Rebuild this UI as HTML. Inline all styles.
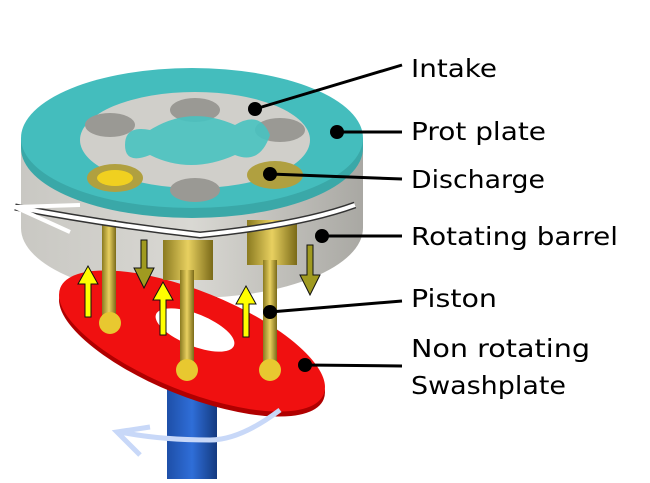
<!DOCTYPE html>
<html><head><style>
body{margin:0;width:650px;height:479px;background:#fff;overflow:hidden;font-family:"DejaVu Sans",sans-serif}
</style></head><body>
<svg width="650" height="479" viewBox="0 0 650 479">
<defs>
<linearGradient id="bar" x1="0" x2="1"><stop offset="0" stop-color="#c9c8c3"/><stop offset="0.5" stop-color="#d9d8d3"/><stop offset="1" stop-color="#a9a8a3"/></linearGradient>
<linearGradient id="sh" x1="0" x2="1"><stop offset="0" stop-color="#1e4fa8"/><stop offset="0.5" stop-color="#2f6ed8"/><stop offset="1" stop-color="#143a80"/></linearGradient>
<linearGradient id="pin" x1="0" x2="1"><stop offset="0" stop-color="#8a7a20"/><stop offset="0.5" stop-color="#e8d060"/><stop offset="1" stop-color="#7a6a18"/></linearGradient>
</defs>
<rect x="167" y="220" width="50" height="259" fill="url(#sh)"/>
<path d="M21 145 L21 228 A171 70 0 0 0 363 228 L363 145 Z" fill="url(#bar)"/>
<ellipse cx="192" cy="346" rx="142" ry="50" transform="rotate(22 192 346)" fill="#b00000"/>
<ellipse cx="192" cy="341" rx="142" ry="50" transform="rotate(22 192 341)" fill="#f01010"/>
<ellipse cx="195" cy="330" rx="42" ry="16" transform="rotate(22 195 330)" fill="#fff"/>
<g fill="url(#pin)">
<rect x="102" y="220" width="14" height="100"/><circle cx="110" cy="323" r="11" fill="#e8c830"/>
<rect x="163" y="240" width="50" height="40"/>
<rect x="180" y="270" width="14" height="95"/><circle cx="187" cy="370" r="11" fill="#e8c830"/>
<rect x="247" y="220" width="50" height="45"/>
<rect x="263" y="260" width="14" height="108"/><circle cx="270" cy="370" r="11" fill="#e8c830"/>
</g>
<path d="M21 138 L21 148 A171 70 0 0 0 363 148 L363 138 Z" fill="#3aa8a8"/>
<ellipse cx="192" cy="138" rx="171" ry="70" fill="#44bdbd"/>
<ellipse cx="195" cy="140" rx="115" ry="48" fill="#d0cfca"/>
<ellipse cx="195" cy="110" rx="25" ry="12" fill="#9a9994"/>
<ellipse cx="110" cy="125" rx="25" ry="12" fill="#9a9994"/>
<ellipse cx="280" cy="130" rx="25" ry="12" fill="#9a9994"/>
<ellipse cx="115" cy="178" rx="28" ry="14" fill="#b0a040"/>
<ellipse cx="115" cy="178" rx="18" ry="8" fill="#f0d020"/>
<ellipse cx="275" cy="175" rx="28" ry="14" fill="#b0a040"/>
<ellipse cx="195" cy="190" rx="25" ry="12" fill="#9a9994"/>
<path d="M150 130 Q190 105 235 125 Q260 110 270 135 Q260 165 235 155 Q190 175 150 155 Q125 165 125 145 Q125 125 150 130Z" fill="#48c2c0" opacity="0.9"/>
<path d="M355 205 Q300 225 200 235 Q110 225 15 207" fill="none" stroke="#333" stroke-width="7"/>
<path d="M355 205 Q300 225 200 235 Q110 225 15 207" fill="none" stroke="#fff" stroke-width="4"/>
<path d="M80 205 L15 207 L70 232" fill="none" stroke="#fff" stroke-width="4"/>
<path d="M280 410 Q240 440 210 440 Q160 440 120 432 M150 427 L117 432 L140 455" fill="none" stroke="#c8d8f8" stroke-width="5"/>
<g stroke="#111" stroke-width="1" fill="#ffff00">
<path d="M85 317 L85 284 L78 284 L88 266 L98 284 L91 284 L91 317Z"/>
<path d="M160 335 L160 300 L153 300 L163 282 L173 300 L166 300 L166 335Z"/>
<path d="M243 337 L243 304 L236 304 L246 286 L256 304 L249 304 L249 337Z"/>
</g>
<g stroke="#111" stroke-width="1" fill="#a09a20">
<path d="M141 240 L141 268 L134 268 L144 288 L154 268 L147 268 L147 240Z"/>
<path d="M307 245 L307 275 L300 275 L310 295 L320 275 L313 275 L313 245Z"/>
</g>
<g stroke="#000" stroke-width="3">
<line x1="255" y1="109" x2="402" y2="65"/>
<line x1="337" y1="132" x2="402" y2="132"/>
<line x1="270" y1="174" x2="402" y2="179"/>
<line x1="322" y1="236" x2="402" y2="236"/>
<line x1="270" y1="312" x2="402" y2="301"/>
<line x1="305" y1="365" x2="402" y2="366"/>
</g>
<g fill="#000">
<circle cx="255" cy="109" r="7"/><circle cx="337" cy="132" r="7"/><circle cx="270" cy="174" r="7"/>
<circle cx="322" cy="236" r="7"/><circle cx="270" cy="312" r="7"/><circle cx="305" cy="365" r="7"/>
</g>
<g font-size="25" fill="#000">
<text x="411" y="77" textLength="86" lengthAdjust="spacingAndGlyphs">Intake</text>
<text x="411" y="140" textLength="135" lengthAdjust="spacingAndGlyphs">Prot plate</text>
<text x="411" y="188" textLength="134" lengthAdjust="spacingAndGlyphs">Discharge</text>
<text x="411" y="245" textLength="207" lengthAdjust="spacingAndGlyphs">Rotating barrel</text>
<text x="411" y="307" textLength="86" lengthAdjust="spacingAndGlyphs">Piston</text>
<text x="411" y="357" textLength="179" lengthAdjust="spacingAndGlyphs">Non rotating</text>
<text x="411" y="394" textLength="155" lengthAdjust="spacingAndGlyphs">Swashplate</text>
</g>
</svg>
</body></html>
